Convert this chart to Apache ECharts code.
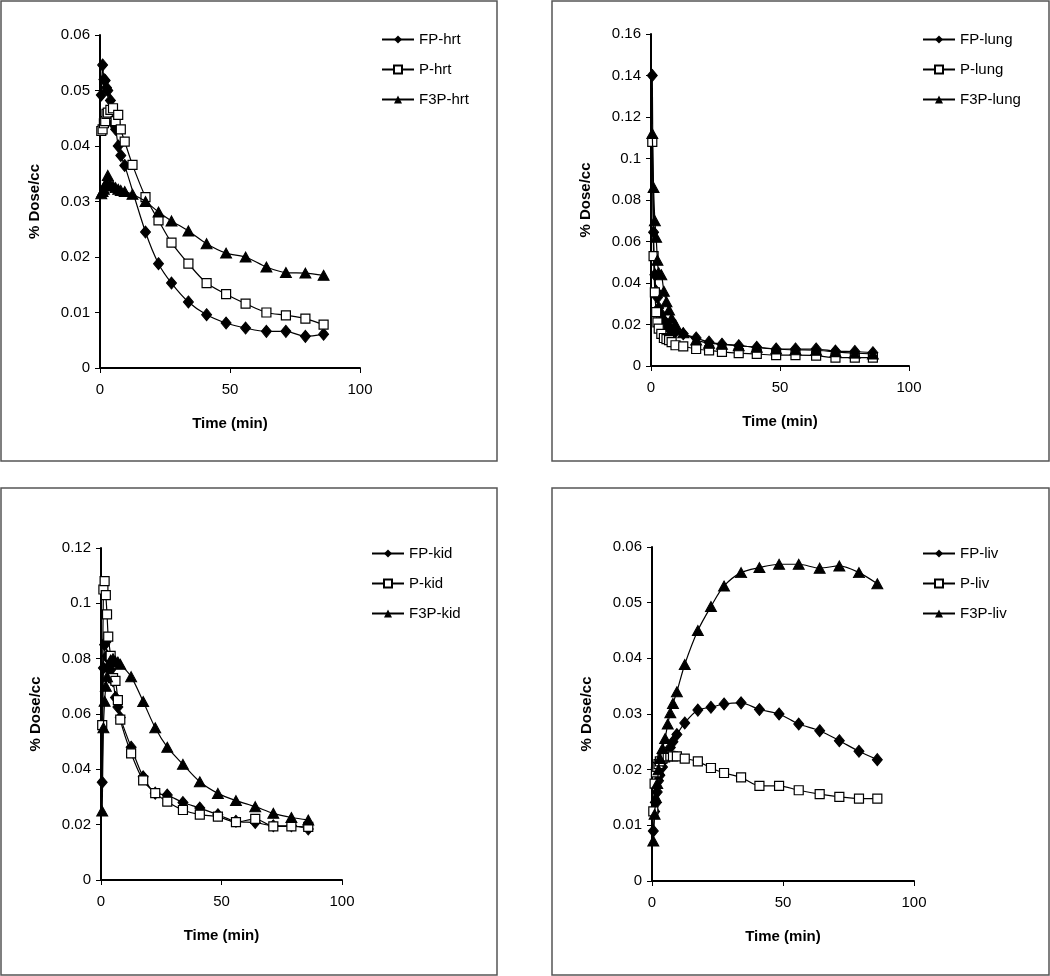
<!DOCTYPE html>
<html>
<head>
<meta charset="utf-8">
<script src="https://cdn.jsdelivr.net/npm/echarts@6/dist/echarts.min.js"></script>
<style>
  html, body { margin: 0; padding: 0; background: #fff; }
  #chart { width: 1050px; height: 976px; }
</style>
</head>
<body>
<div id="chart"></div>
<script>
// sampling times (min), shared by all four organs
var times = [0.5, 1, 1.5, 2, 2.5, 3, 4, 5, 6, 7, 8, 9.5, 12.5, 17.5, 22.5, 27.5, 34, 41, 48.5, 56, 64, 71.5, 79, 86];

// heart
var hrtFP  = [0.0492, 0.0546, 0.0520, 0.0518, 0.0505, 0.0500, 0.0482, 0.0440, 0.0430, 0.0400, 0.0383, 0.0365, null, 0.0245, 0.0188, 0.0153, 0.0119, 0.0096, 0.0081, 0.0072, 0.0066, 0.0066, 0.0057, 0.0061];
var hrtP   = [0.0427, 0.0430, 0.0441, 0.0445, 0.0458, 0.0460, 0.0465, 0.0468, 0.0445, 0.0456, 0.0430, 0.0408, 0.0366, 0.0308, 0.0266, 0.0226, 0.0188, 0.0153, 0.0133, 0.0116, 0.0100, 0.0095, 0.0089, 0.0078];
var hrtF3P = [0.0314, 0.0318, 0.0322, 0.0330, 0.0335, 0.0347, 0.0330, 0.0328, 0.0325, 0.0322, 0.0320, 0.0318, 0.0313, 0.0300, 0.0281, 0.0265, 0.0247, 0.0224, 0.0207, 0.0200, 0.0182, 0.0172, 0.0171, 0.0167];

// lung
var lungFP  = [0.140, 0.0645, 0.044, 0.036, 0.033, 0.028, 0.025, 0.022, 0.020, 0.018, 0.0175, 0.0165, 0.0155, 0.0135, 0.0115, 0.0105, 0.0098, 0.0090, 0.0082, 0.0082, 0.0082, 0.0072, 0.0070, 0.0064];
var lungP   = [0.108, 0.053, 0.0355, 0.026, 0.021, 0.018, 0.0155, 0.0135, 0.013, 0.0125, 0.0115, 0.0100, 0.0095, 0.0082, 0.0075, 0.0068, 0.0062, 0.0058, 0.0052, 0.0052, 0.0050, 0.0040, 0.0040, 0.0040];
var lungF3P = [0.112, 0.086, 0.070, 0.062, 0.051, 0.045, 0.044, 0.036, 0.031, 0.027, 0.023, 0.020, 0.016, 0.0125, 0.0110, 0.0105, 0.0098, 0.0090, 0.0082, 0.0078, 0.0076, 0.0068, 0.0062, 0.0058];

// kidney
var kidFP  = [0.0353, 0.0766, 0.0850, 0.0860, 0.0810, 0.0800, 0.0760, 0.0720, 0.0660, 0.0625, 0.0587, null, 0.0480, 0.0373, 0.0314, 0.0307, 0.0280, 0.0260, 0.0236, 0.0212, 0.0208, 0.0196, 0.0196, 0.0184];
var kidP   = [0.0560, 0.1050, 0.1080, 0.1030, 0.0960, 0.0880, 0.0810, 0.0730, 0.0720, 0.0650, 0.0580, null, 0.0458, 0.0360, 0.0314, 0.0283, 0.0253, 0.0236, 0.0229, 0.0209, 0.0221, 0.0194, 0.0194, 0.0192];
var kidF3P = [0.0249, 0.0550, 0.0646, 0.0700, 0.0735, 0.0770, 0.0795, 0.0800, 0.0790, 0.0788, 0.0780, null, 0.0735, 0.0645, 0.0550, 0.0480, 0.0418, 0.0355, 0.0313, 0.0287, 0.0265, 0.0241, 0.0226, 0.0217];

// liver
var livFP  = [0.0090, 0.0125, 0.0140, 0.0160, 0.0180, 0.0190, 0.0205, 0.0220, 0.0230, 0.0240, 0.0250, 0.0263, 0.0284, 0.0307, 0.0312, 0.0318, 0.0320, 0.0308, 0.0300, 0.0282, 0.0270, 0.0252, 0.0233, 0.0218];
var livP   = [0.0125, 0.0175, 0.0195, 0.0205, 0.0210, 0.0215, 0.0220, 0.0222, 0.0224, 0.0225, 0.0224, 0.0224, 0.0220, 0.0215, 0.0203, 0.0194, 0.0186, 0.0171, 0.0171, 0.0163, 0.0156, 0.0151, 0.0148, 0.0148];
var livF3P = [0.0072, 0.0120, 0.0150, 0.0175, 0.0200, 0.0220, 0.0238, 0.0256, 0.0282, 0.0302, 0.0319, 0.0340, 0.0389, 0.0450, 0.0493, 0.0530, 0.0554, 0.0563, 0.0569, 0.0569, 0.0562, 0.0566, 0.0554, 0.0534];

var organs = ['hrt', 'lung', 'kid', 'liv'];
var yMax = [0.06, 0.16, 0.12, 0.06];
var yStep = [0.01, 0.02, 0.02, 0.01];
var values = [[hrtFP, hrtP, hrtF3P], [lungFP, lungP, lungF3P], [kidFP, kidP, kidF3P], [livFP, livP, livF3P]];
var prefixes = ['FP-', 'P-', 'F3P-'];

var font = 'Liberation Sans, Arial, sans-serif';
var grids = [
    {left: 100, top: 35, width: 260, height: 333},
    {left: 651, top: 34, width: 258, height: 332},
    {left: 101, top: 548, width: 241, height: 332},
    {left: 652, top: 547, width: 262, height: 334}
];
var legendPos = [
    {left: 376, top: 27},
    {left: 917, top: 27},
    {left: 366, top: 541},
    {left: 917, top: 541}
];
var frames = [
    [1, 1, 496, 460],
    [552, 1, 497, 460],
    [1, 488, 496, 487],
    [552, 488, 497, 487]
];

function pairs(arr){
    var out = []
    for(var i = 0; i < times.length; i++){
        if(arr[i] !== null) out.push([times[i], arr[i]])
    }
    return out
}

function markerStyle(k){
    if(k == 0) return {symbol: 'diamond', symbolSize: [10, 12], itemStyle: {color: '#000', borderColor: '#000'}}
    if(k == 1) return {symbol: 'rect', symbolSize: 9, itemStyle: {color: '#fff', borderColor: '#000', borderWidth: 1.2}}
    return {symbol: 'triangle', symbolSize: [11, 10], itemStyle: {color: '#000', borderColor: '#000'}}
}

var xAxis = [], yAxis = [], series = [], legend = [], graphic = [];
for(var g = 0; g < 4; g++){
    xAxis.push({
        gridIndex: g, type: 'value', min: 0, max: 100, interval: 50,
        name: 'Time (min)', nameLocation: 'middle', nameGap: 48,
        nameTextStyle: {fontFamily: font, fontWeight: 'bold', fontSize: 15, color: '#000'},
        axisLine: {onZero: false, lineStyle: {color: '#000', width: 2}},
        axisTick: {show: true, length: 5, lineStyle: {color: '#000'}},
        axisLabel: {fontFamily: font, fontSize: 15, color: '#000', margin: 14},
        splitLine: {show: false}
    })
    yAxis.push({
        gridIndex: g, type: 'value', min: 0, max: yMax[g], interval: yStep[g],
        name: '% Dose/cc', nameLocation: 'middle', nameGap: 58,
        nameTextStyle: {fontFamily: font, fontWeight: 'bold', fontSize: 15, color: '#000'},
        axisLine: {show: true, lineStyle: {color: '#000', width: 2}},
        axisTick: {show: true, length: 5, lineStyle: {color: '#000'}},
        axisLabel: {fontFamily: font, fontSize: 15, color: '#000', margin: 10,
            formatter: function(v){ return String(+v.toFixed(3)) }},
        splitLine: {show: false}
    })
    var names = []
    for(var k = 0; k < 3; k++){
        var nm = prefixes[k] + organs[g]
        names.push(nm)
        var m = markerStyle(k)
        series.push({
            name: nm, type: 'line', xAxisIndex: g, yAxisIndex: g,
            data: pairs(values[g][k]),
            smooth: 0.3,
            symbol: m.symbol, symbolSize: m.symbolSize, itemStyle: m.itemStyle,
            lineStyle: {color: '#000', width: 1.2},
            z: 2 + k,
            animation: false
        })
    }
    legend.push({
        data: names, orient: 'vertical', left: legendPos[g].left, top: legendPos[g].top,
        itemWidth: 32, itemHeight: 10, itemGap: 15,
        textStyle: {fontFamily: font, fontSize: 15, color: '#000'},
        selectedMode: false
    })
    graphic.push({
        type: 'rect', silent: true,
        shape: {x: frames[g][0], y: frames[g][1], width: frames[g][2], height: frames[g][3]},
        style: {fill: 'none', stroke: '#555', lineWidth: 1.5}
    })
}

var myChart = echarts.init(document.getElementById('chart'))
myChart.setOption({
    animation: false,
    backgroundColor: '#fff',
    grid: grids,
    xAxis: xAxis,
    yAxis: yAxis,
    legend: legend,
    series: series,
    graphic: graphic
})
</script>
</body>
</html>
